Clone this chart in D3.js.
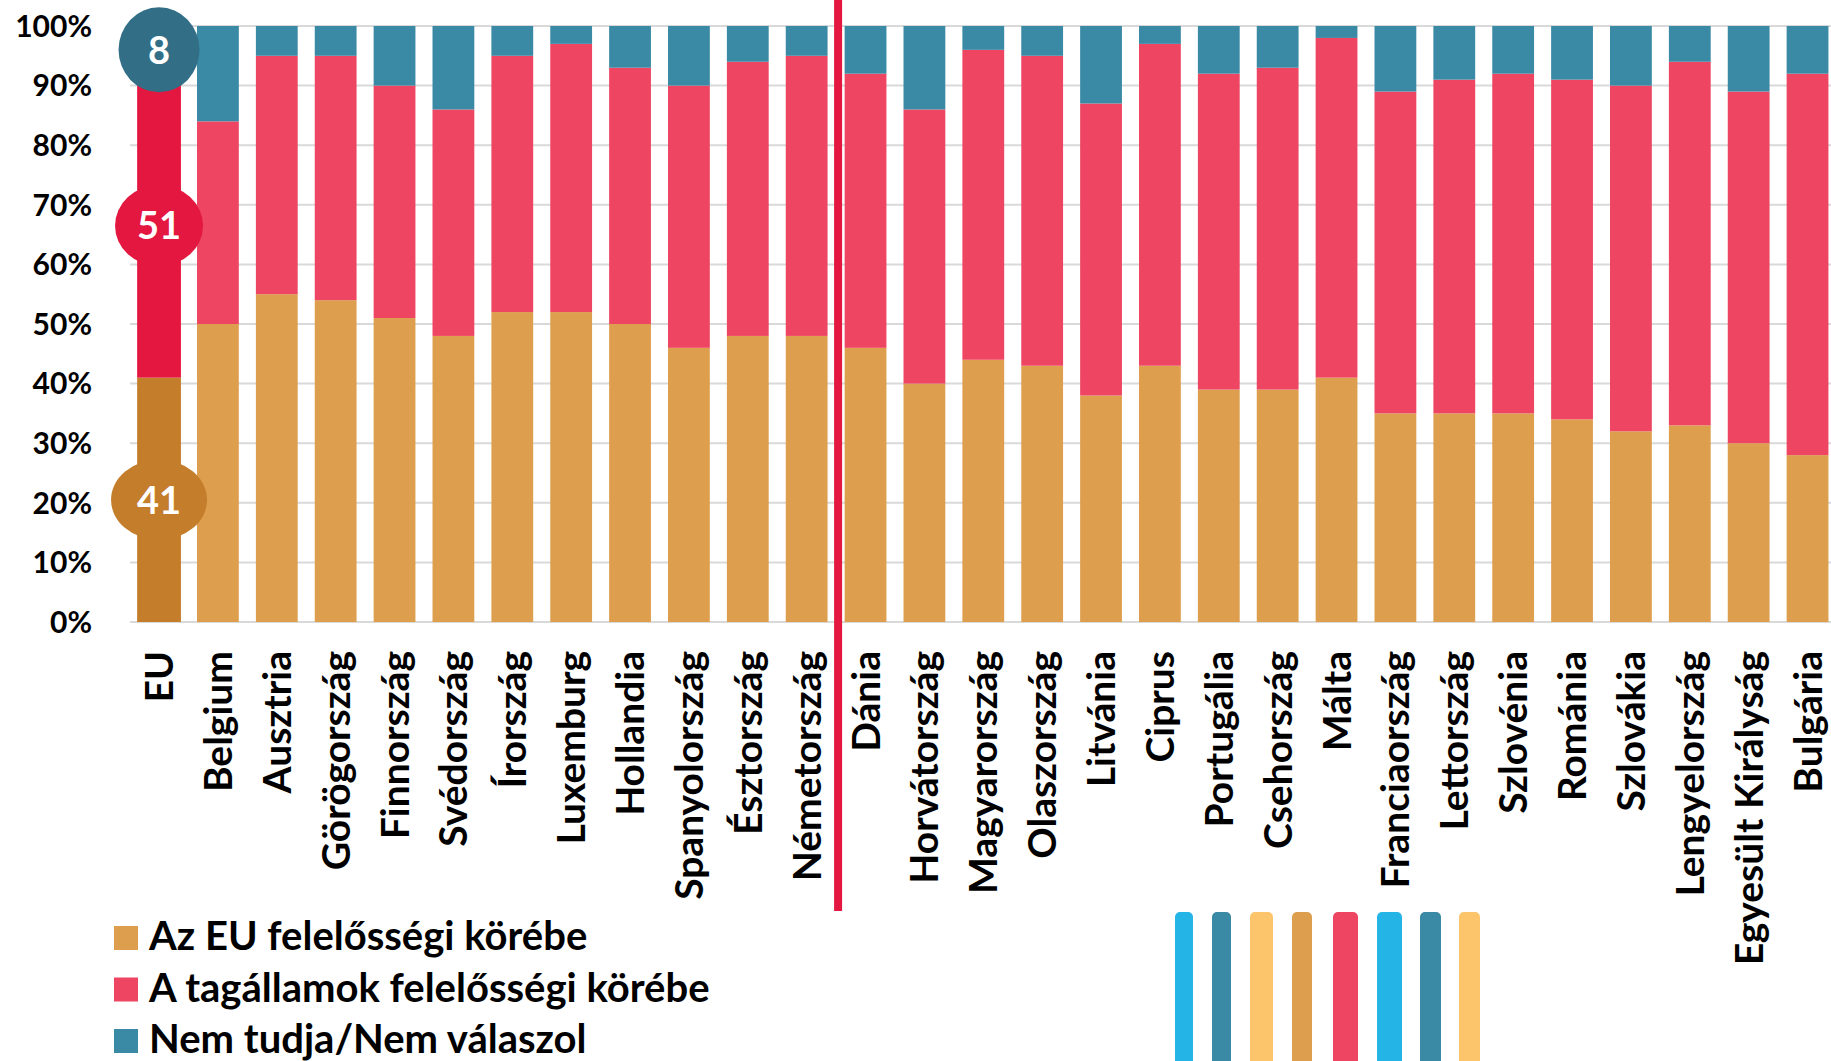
<!DOCTYPE html>
<html lang="hu">
<head>
<meta charset="utf-8">
<script src="https://cdn.jsdelivr.net/npm/d3@7"></script>
<style>
  html, body { margin: 0; padding: 0; background: #fff; }
  svg { display: block; font-family: Lato, "Open Sans", sans-serif; font-weight: 700; }
</style>
</head>
<body>
<div id="chart"></div>
<script>
// 1. Adatok (az ábráról leolvasva, %)
const countries = ["EU", "Belgium", "Ausztria", "Görögország", "Finnország", "Svédország",
  "Írország", "Luxemburg", "Hollandia", "Spanyolország", "Észtország", "Németország",
  "Dánia", "Horvátország", "Magyarország", "Olaszország", "Litvánia", "Ciprus",
  "Portugália", "Csehország", "Málta", "Franciaország", "Lettország", "Szlovénia",
  "Románia", "Szlovákia", "Lengyelország", "Egyesült Királyság", "Bulgária"];

const euShare     = [41, 50, 55, 54, 51, 48, 52, 52, 50, 46, 48, 48, 46, 40, 44, 43, 38, 43, 39, 39, 41, 35, 35, 35, 34, 32, 33, 30, 28];
const memberShare = [51, 34, 40, 41, 39, 38, 43, 45, 43, 44, 46, 47, 46, 46, 52, 52, 49, 54, 53, 54, 57, 54, 56, 57, 57, 58, 61, 59, 64];
const dontKnow    = [ 8, 16,  5,  5, 10, 14,  5,  3,  7, 10,  6,  5,  8, 14,  4,  5, 13,  3,  8,  7,  2, 11,  9,  8,  9, 10,  6, 11,  8];

const seriesKeys   = ["eu", "member", "dk"];
const seriesLabels = ["Az EU felelősségi körébe", "A tagállamok felelősségi körébe", "Nem tudja/Nem válaszol"];
const yTicks = [0, 10, 20, 30, 40, 50, 60, 70, 80, 90, 100];
const splitAfter = "Németország"; // piros elválasztó vonal helye

// színek
const colors   = { eu: "#DD9F4E", member: "#EE4563", dk: "#3A89A5" };
const euColors = { eu: "#C47D2A", member: "#E3173F", dk: "#326F87" };
// az EU oszlop buborékjainak mérete
const bubble = { eu: [48, 40], member: [44, 40.5], dk: [40.5, 42.5] };

// 2. SVG
const width = 1831;
const height = 1061;

const svg = d3.select("#chart")
    .append("svg")
    .attr("width", width)
    .attr("height", height);

const rows = countries.map((c, i) => ({ country: c, eu: euShare[i], member: memberShare[i], dk: dontKnow[i] }));
const stacked = d3.stack().keys(seriesKeys)(rows);

// 3. Skálák
const x = d3.scaleBand()
    .domain(countries)
    .range([129.6, 129.6 + 29 * 58.875])
    .paddingInner(0.29)
    .paddingOuter(0.145);

const y = d3.scaleLinear()
    .domain([0, 100])
    .range([622, 26]);

// rácsvonalak
svg.append("g")
    .selectAll("line")
    .data(yTicks)
    .enter()
    .append("line")
    .attr("x1", 130)
    .attr("x2", width)
    .attr("y1", d => y(d))
    .attr("y2", d => y(d))
    .attr("stroke", "#d9d9d9")
    .attr("stroke-width", 2);

// y tengely feliratai
svg.append("g")
    .selectAll("text")
    .data(yTicks)
    .enter()
    .append("text")
    .attr("x", 92)
    .attr("y", d => y(d))
    .attr("dy", "0.36em")
    .attr("text-anchor", "end")
    .attr("font-size", 30)
    .attr("fill", "#000")
    .text(d => d + "%");

// 4. Oszlopok
svg.append("g")
    .selectAll("g")
    .data(stacked)
    .enter()
    .append("g")
    .selectAll("rect")
    .data(s => s.map(d => Object.assign({ key: s.key }, d)))
    .enter()
    .append("rect")
    .attr("x", d => d.data.country === "EU" ? x(d.data.country) - 1 : x(d.data.country))
    .attr("width", d => d.data.country === "EU" ? x.bandwidth() + 2 : x.bandwidth())
    .attr("y", d => y(d[1]))
    .attr("height", d => y(d[0]) - y(d[1]))
    .attr("fill", d => d.data.country === "EU" ? euColors[d.key] : colors[d.key]);

// EU buborékok
const euCx = x("EU") + x.bandwidth() / 2;
const euBubbles = stacked.map(s => ({ key: s.key, lo: s[0][0], hi: s[0][1] }));

const bub = svg.append("g")
    .selectAll("g")
    .data(euBubbles)
    .enter()
    .append("g")
    .attr("transform", d => `translate(${euCx},${y((d.lo + d.hi) / 2)})`);

bub.append("ellipse")
    .attr("rx", d => bubble[d.key][0])
    .attr("ry", d => bubble[d.key][1])
    .attr("fill", d => euColors[d.key]);

bub.append("text")
    .attr("text-anchor", "middle")
    .attr("dy", "0.36em")
    .attr("font-size", 38)
    .attr("fill", "#fff")
    .text(d => d.hi - d.lo);

// x tengely feliratai (függőleges)
svg.append("g")
    .selectAll("text")
    .data(countries)
    .enter()
    .append("text")
    .attr("transform", d => `translate(${x(d) + x.bandwidth() / 2},651) rotate(-90)`)
    .attr("dy", "0.36em")
    .attr("text-anchor", "end")
    .attr("font-size", 39)
    .attr("fill", "#000")
    .text(d => d);

// elválasztó vonal
const idx = countries.indexOf(splitAfter);
const splitX = (x(countries[idx]) + x.bandwidth() + x(countries[idx + 1])) / 2 + 2;
svg.append("line")
    .attr("x1", splitX)
    .attr("x2", splitX)
    .attr("y1", 0)
    .attr("y2", 911)
    .attr("stroke", "#E3173F")
    .attr("stroke-width", 8);

// 5. Jelmagyarázat
const legend = svg.append("g")
    .selectAll("g")
    .data(seriesKeys)
    .enter()
    .append("g")
    .attr("transform", (d, i) => `translate(114,${950 + i * 51.5})`);

legend.append("rect")
    .attr("y", -24)
    .attr("width", 24)
    .attr("height", 24)
    .attr("fill", d => colors[d]);

legend.append("text")
    .attr("x", 35)
    .attr("font-size", 40)
    .attr("fill", "#000")
    .text((d, i) => seriesLabels[i]);

// díszítő csíkok alul
const stripes = [
    [1175, 18, "#25B4E6"], [1212, 19, "#3A89A5"], [1250, 23, "#FCC46B"], [1292, 20, "#DD9F4E"],
    [1333, 25, "#EE4563"], [1377, 25, "#25B4E6"], [1420, 21, "#3A89A5"], [1459, 21, "#FCC46B"]
];
svg.append("g")
    .selectAll("rect")
    .data(stripes)
    .enter()
    .append("rect")
    .attr("x", d => d[0])
    .attr("y", 912)
    .attr("width", d => d[1])
    .attr("height", 160)
    .attr("rx", 5)
    .attr("fill", d => d[2]);
</script>
</body>
</html>
